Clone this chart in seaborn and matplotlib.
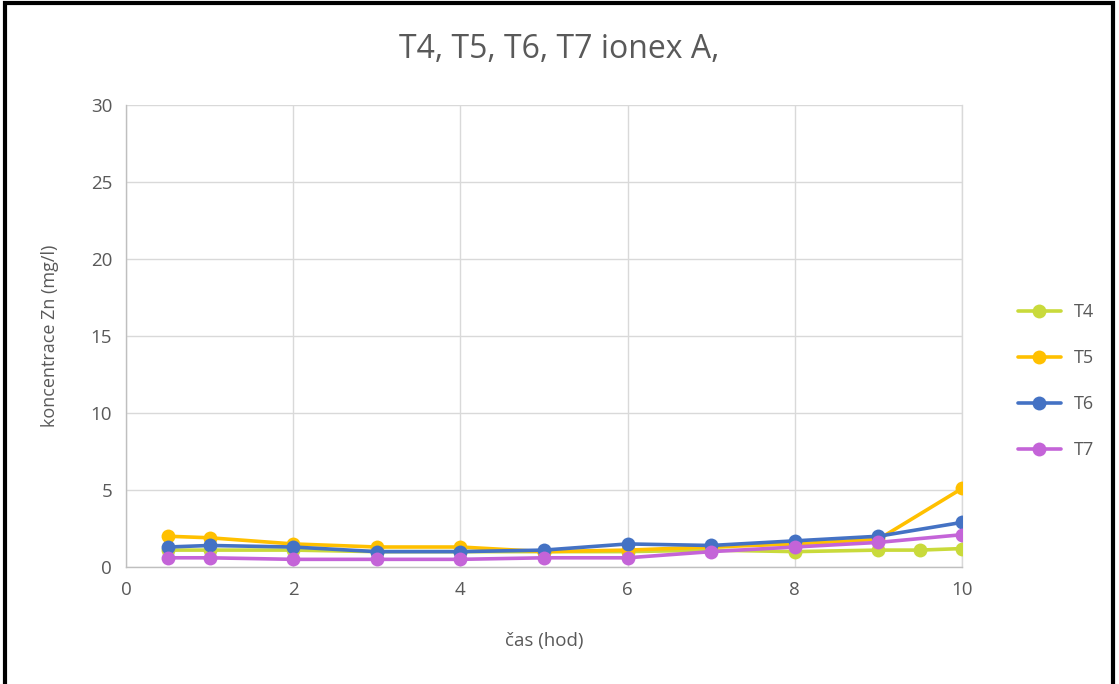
import matplotlib
matplotlib.use("Agg")
import matplotlib.pyplot as plt
from matplotlib.lines import Line2D
from matplotlib.patches import Rectangle
import pandas as pd
import seaborn as sns

# Sampling times (hours) and zinc concentrations (mg/l)
time_t4 = [0.5, 1, 2, 3, 4, 5, 6, 7, 8, 9, 9.5, 10]
time = [0.5, 1, 2, 3, 4, 5, 6, 7, 8, 9, 10]
t4 = [1.1, 1.1, 1.1, 1.0, 1.0, 1.0, 1.0, 1.1, 1.0, 1.1, 1.1, 1.2]
t5 = [2.0, 1.9, 1.5, 1.3, 1.3, 1.0, 1.1, 1.3, 1.5, 1.8, 5.1]
t6 = [1.3, 1.4, 1.3, 1.0, 1.0, 1.1, 1.5, 1.4, 1.7, 2.0, 2.9]
t7 = [0.6, 0.6, 0.5, 0.5, 0.5, 0.6, 0.6, 1.0, 1.3, 1.6, 2.1]
series_names = ["T4", "T5", "T6", "T7"]
colors = ["#C9DA3B", "#FFC000", "#4472C4", "#C464D8"]

x_ticks = [0, 2, 4, 6, 8, 10]
y_ticks = [0, 5, 10, 15, 20, 25, 30]

sns.set_theme(style="white")
plt.rcParams["font.family"] = ["Open Sans", "DejaVu Sans"]

frames = []
for name, xs, ys in [("T4", time_t4, t4), ("T5", time, t5), ("T6", time, t6), ("T7", time, t7)]:
    frames.append(pd.DataFrame({"cas": xs, "konc": ys, "serie": name}))
df = pd.concat(frames, ignore_index=True)

fig = plt.figure(figsize=(11.19, 6.84), dpi=100)
ax = fig.add_axes([0.1126, 0.171, 0.7471, 0.6755])

sns.lineplot(data=df, x="cas", y="konc", hue="serie", hue_order=series_names,
             palette=colors, marker="o", markersize=10, markeredgewidth=0,
             linewidth=2.6, legend=False, ax=ax, sort=False, zorder=3)

ax.set_xlim(0, 10)
ax.set_ylim(0, 30)
ax.set_xticks(x_ticks)
ax.set_yticks(y_ticks)
ax.grid(True, color="#D9D9D9", linewidth=1.0)
ax.set_axisbelow(True)
ax.spines["top"].set_visible(False)
ax.spines["right"].set_color("#D9D9D9")
ax.spines["right"].set_linewidth(1.0)
for side in ["left", "bottom"]:
    ax.spines[side].set_color("#BFBFBF")
    ax.spines[side].set_linewidth(1.0)
ax.tick_params(axis="both", length=0, labelsize=13.5, labelcolor="#595959", pad=10)

ax.set_xlabel("čas (hod)", fontsize=13.5, color="#595959", labelpad=24)
ax.set_ylabel("koncentrace Zn (mg/l)", fontsize=13, color="#595959", labelpad=23)
fig.text(0.5, 0.928, "T4, T5, T6, T7 ionex A,", ha="center", va="center",
         fontsize=23, color="#595959")

handles = [Line2D([0], [0], color=c, marker="o", markersize=10, markeredgewidth=0,
                  linewidth=2.6) for c in colors]
fig.legend(handles, series_names, loc="center left", bbox_to_anchor=(0.895, 0.443),
           frameon=False, fontsize=13, labelcolor="#595959", handlelength=2.4,
           labelspacing=1.55, handletextpad=0.7)

# Chart frame
fig.patches.append(Rectangle((0.0045, -0.05), 0.9905, 1.045, transform=fig.transFigure,
                             fill=False, edgecolor="black", linewidth=3.0))

fig.savefig("out.png", dpi=100, facecolor="white")
